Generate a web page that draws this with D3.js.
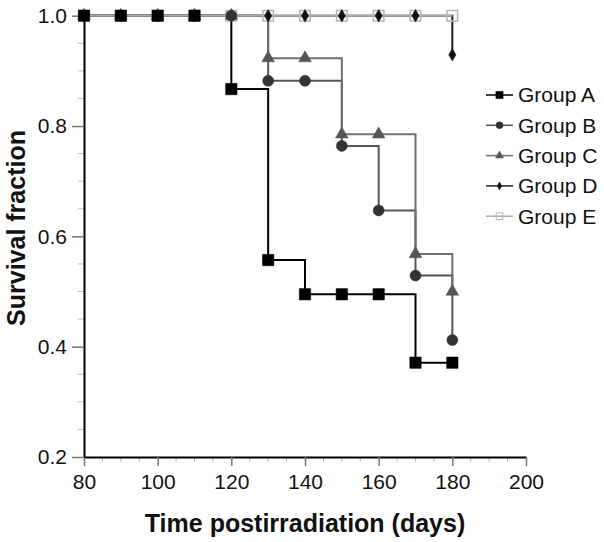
<!DOCTYPE html>
<html><head><meta charset="utf-8">
<script src="https://cdn.jsdelivr.net/npm/d3@7"></script>
<style>body{margin:0;background:#fff}svg{display:block}text{font-family:"Liberation Sans",Arial,sans-serif}</style>
</head><body><svg id="c" width="604" height="542"></svg>
<script>
const times = [80, 90, 100, 110, 120, 130, 140, 150, 160, 170, 180];
const groupA = [1, 1, 1, 1, 0.867, 0.557, 0.495, 0.495, 0.495, 0.371, 0.371];
const groupB = [1, 1, 1, 1, 1, 0.882, 0.882, 0.764, 0.647, 0.529, 0.412];
const groupC = [1, 1, 1, 1, 1, 0.923, 0.923, 0.785, 0.785, 0.568, 0.5];
const groupD = [1, 1, 1, 1, 1, 1, 1, 1, 1, 1, 0.929];
const groupE = [1, 1, 1, 1, 1, 1, 1, 1, 1, 1, 1];
const groupNames = ["Group A", "Group B", "Group C", "Group D", "Group E"];
const xTicks = [80, 100, 120, 140, 160, 180, 200];
const yTicks = [0.2, 0.4, 0.6, 0.8, 1.0];

const series = [
  {name: groupNames[0], vals: groupA, line: "#000", fill: "#000", stroke: "#000", sym: d3.symbolSquare, size: 130, lw: 2},
  {name: groupNames[1], vals: groupB, line: "#555", fill: "#333", stroke: "#333", sym: d3.symbolCircle, size: 95, lw: 2},
  {name: groupNames[2], vals: groupC, line: "#707070", fill: "#555", stroke: "#555", sym: d3.symbolTriangle, size: 70, lw: 2},
  {name: groupNames[3], vals: groupD, line: "#222", fill: "#111", stroke: "#111", sym: d3.symbolDiamond, size: 45, lw: 2},
  {name: groupNames[4], vals: groupE, line: "#aaa", fill: "none", stroke: "#b5b5b5", sym: d3.symbolSquare, size: 110, lw: 2}
];

const svg = d3.select("#c");
const x = d3.scaleLinear().domain([80, 200]).range([84, 526]);
const y = d3.scaleLinear().domain([0.2, 1.0]).range([457, 15.7]);

// minor ticks
const xMinor = d3.range(80, 201, 5).filter(v => v % 20 !== 0);
const yMinor = d3.range(0.2, 1.0001, 0.05).filter(v => Math.abs(v*5 - Math.round(v*5)) > 1e-6);
svg.append("g").selectAll("line").data(xMinor).join("line")
  .attr("x1", d => x(d)).attr("x2", d => x(d)).attr("y1", 457).attr("y2", 462)
  .attr("stroke", "#bbb").attr("stroke-width", 1);
svg.append("g").selectAll("line").data(yMinor).join("line")
  .attr("y1", d => y(d)).attr("y2", d => y(d)).attr("x1", 78).attr("x2", 84)
  .attr("stroke", "#bbb").attr("stroke-width", 1);

// axes
const xAxis = svg.append("g").attr("transform", "translate(0,457)")
  .call(d3.axisBottom(x).tickValues(xTicks).tickSize(9).tickSizeOuter(0).tickPadding(8).tickFormat(d3.format("d")));
const yAxis = svg.append("g").attr("transform", "translate(84,0)")
  .call(d3.axisLeft(y).tickValues(yTicks).tickSize(12).tickSizeOuter(0).tickPadding(5).tickFormat(d3.format(".1f")));
[xAxis, yAxis].forEach(g => {
  g.select(".domain").attr("stroke", "#000").attr("stroke-width", 2);
  g.selectAll(".tick line").attr("stroke", "#777").attr("stroke-width", 1.5);
  g.selectAll(".tick text").attr("fill", "#111").style("font-size", "21px").style("font-family", "Liberation Sans, Arial, sans-serif");
});

// lines
const lineGen = d3.line().x(d => x(d[0])).y(d => y(d[1])).curve(d3.curveStepAfter);
series.forEach(s => {
  const pts = times.map((t, i) => [t, s.vals[i]]);
  svg.append("path").attr("d", lineGen(pts)).attr("fill", "none")
    .attr("stroke", s.line).attr("stroke-width", s.lw);
});
// markers (E first so others on top)
[4, 3, 2, 1, 0].forEach(k => {
  const s = series[k];
  const pts = times.map((t, i) => [t, s.vals[i]]);
  svg.append("g").selectAll("path").data(pts).join("path")
    .attr("transform", d => `translate(${x(d[0])},${y(d[1])})`)
    .attr("d", d3.symbol().type(s.sym).size(s.size))
    .attr("fill", s.fill === "none" ? "none" : s.fill)
    .attr("stroke", s.stroke).attr("stroke-width", s.fill === "none" ? 1.5 : 0.5);
});

// legend
const leg = svg.append("g");
series.forEach((s, i) => {
  const ly = 95 + i * 30.3;
  leg.append("line").attr("x1", 486).attr("x2", 513).attr("y1", ly).attr("y2", ly)
    .attr("stroke", s.line).attr("stroke-width", 1.5);
  leg.append("path").attr("transform", `translate(499.5,${ly})`)
    .attr("d", d3.symbol().type(s.sym).size(s.size * 0.4))
    .attr("fill", s.fill).attr("stroke", s.stroke).attr("stroke-width", s.fill === "none" ? 1 : 0.5);
  leg.append("text").attr("x", 518).attr("y", ly).attr("dy", "0.35em")
    .style("font-size", "21px").attr("fill", "#111").text(s.name);
});

// titles
svg.append("text").attr("x", 305).attr("y", 532).attr("text-anchor", "middle")
  .style("font-size", "25px").style("font-weight", "bold").attr("fill", "#111")
  .text("Time postirradiation (days)");
svg.append("text").attr("transform", "translate(25,228) rotate(-90)").attr("text-anchor", "middle")
  .style("font-size", "25px").style("font-weight", "bold").attr("fill", "#111")
  .text("Survival fraction");
</script></body></html>
